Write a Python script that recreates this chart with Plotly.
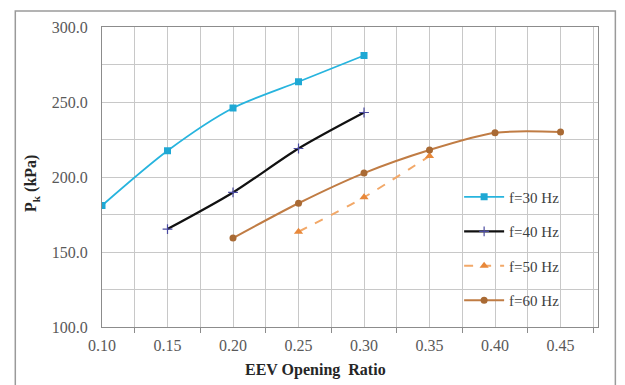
import plotly.graph_objects as go

x30 = [0.10, 0.15, 0.20, 0.25, 0.30]
y30 = [181.0, 217.5, 246.0, 263.5, 281.0]
x40 = [0.15, 0.20, 0.25, 0.30]
y40 = [165.3, 189.7, 219.0, 243.0]
x50 = [0.25, 0.30, 0.35]
y50 = [163.5, 186.5, 214.0]
x60 = [0.20, 0.25, 0.30, 0.35, 0.40, 0.45]
y60 = [159.3, 182.5, 202.6, 218.0, 229.5, 230.0]
xticks = [0.10, 0.15, 0.20, 0.25, 0.30, 0.35, 0.40, 0.45]
xticklabels = ["0.10", "0.15", "0.20", "0.25", "0.30", "0.35", "0.40", "0.45"]
yticks = [100, 150, 200, 250, 300]
yticklabels = ["100.0", "150.0", "200.0", "250.0", "300.0"]

FONT = "Liberation Serif"

fig = go.Figure()
fig.add_trace(go.Scatter(x=x30, y=y30, name="f=30 Hz", mode="lines+markers",
                         line=dict(color="#27B4DE", width=1.8, shape="spline", smoothing=0.8),
                         marker=dict(symbol="square", size=7, color="#1FA8D4"),
                         legendgroup="a"))
fig.add_trace(go.Scatter(x=x40, y=y40, name="f=40 Hz", mode="lines+markers",
                         line=dict(color="#111111", width=2.2, shape="spline", smoothing=0.8),
                         marker=dict(symbol="cross-thin", size=7, color="#4A4AA0",
                                     line=dict(color="#4A4AA0", width=1.2)),
                         legendgroup="b"))
fig.add_trace(go.Scatter(x=x50, y=y50, name="f=50 Hz", mode="lines+markers",
                         line=dict(color="#F2A868", width=2, dash="dash", shape="spline", smoothing=0.8),
                         marker=dict(symbol="triangle-up", size=8, color="#E8883A"),
                         legendgroup="c"))
fig.add_trace(go.Scatter(x=x60, y=y60, name="f=60 Hz", mode="lines+markers",
                         line=dict(color="#C07C44", width=2, shape="spline", smoothing=0.8),
                         marker=dict(symbol="circle", size=7, color="#A96A34"),
                         legendgroup="d"))

# helper overlay axis for tick marks between labels
fig.add_trace(go.Scatter(x=[0.1], y=[100], xaxis="x2", mode="markers",
                         marker=dict(opacity=0), showlegend=False, hoverinfo="skip"))

# page body has an 8px margin, so the figure is offset by (8, 8)
fig.update_layout(
    width=609, height=377,
    margin=dict(l=94, r=19, t=19, b=58, autoexpand=False),
    paper_bgcolor="white", plot_bgcolor="white",
    font=dict(family=FONT, color="#595959", size=16),
    showlegend=True,
    legend=dict(x=0.72, y=0.488, xanchor="left", yanchor="top",
                bgcolor="rgba(255,255,255,0)", borderwidth=0, tracegroupgap=12,
                font=dict(family=FONT, size=15, color="#404040"),
                itemwidth=40),
    xaxis=dict(range=[0.1, 0.4786], tickvals=xticks, ticktext=xticklabels,
               showgrid=True, gridcolor="#C8C8C8", gridwidth=1,
               minor=dict(dtick=0.025, tick0=0.1, showgrid=True, gridcolor="#C8C8C8", gridwidth=1),
               showline=True, linecolor="#8C8C8C", linewidth=1, mirror=True,
               ticks="", zeroline=False, automargin=False, ticklabelstandoff=4,
               tickfont=dict(family=FONT, size=16, color="#595959")),
    xaxis2=dict(range=[0.1, 0.4786], overlaying="x", side="bottom", anchor="y",
                tickvals=[0.125, 0.175, 0.225, 0.275, 0.325, 0.375, 0.425, 0.475],
                showticklabels=False, ticks="outside", ticklen=5, tickcolor="#8C8C8C",
                showgrid=False, showline=False, zeroline=False, automargin=False),
    yaxis=dict(range=[100, 300], tickvals=yticks, ticktext=yticklabels,
               showgrid=True, gridcolor="#C8C8C8", gridwidth=1,
               minor=dict(dtick=25, tick0=100, showgrid=True, gridcolor="#C8C8C8", gridwidth=1),
               showline=True, linecolor="#8C8C8C", linewidth=1, mirror=True,
               ticks="", zeroline=False, automargin=False, ticklabelstandoff=10,
               tickfont=dict(family=FONT, size=16, color="#595959")),
    shapes=[
        dict(type="rect", xref="paper", yref="paper", x0=-0.1748, x1=1.035, y0=-0.25, y1=1.0533,
             line=dict(color="#9A9A9A", width=1.5), fillcolor="rgba(0,0,0,0)", layer="below"),
        # white legend box hiding the grid
        dict(type="rect", xref="paper", yref="paper", x0=0.695, x1=0.977, y0=0.02, y1=0.505,
             line=dict(width=0), fillcolor="white", layer="below"),
    ],
    annotations=[
        dict(text="<b>EEV Opening  Ratio</b>", xref="paper", yref="paper", x=0.43, y=-0.143,
             xanchor="center", yanchor="middle", showarrow=False,
             font=dict(family=FONT, size=16, color="#262626")),
        dict(text="<b>P<sub>k</sub> (kPa)</b>", xref="paper", yref="paper", x=-0.141, y=0.477,
             xanchor="center", yanchor="middle", showarrow=False, textangle=-90,
             font=dict(family=FONT, size=16, color="#262626")),
    ],
)

fig.write_html("out.html")
